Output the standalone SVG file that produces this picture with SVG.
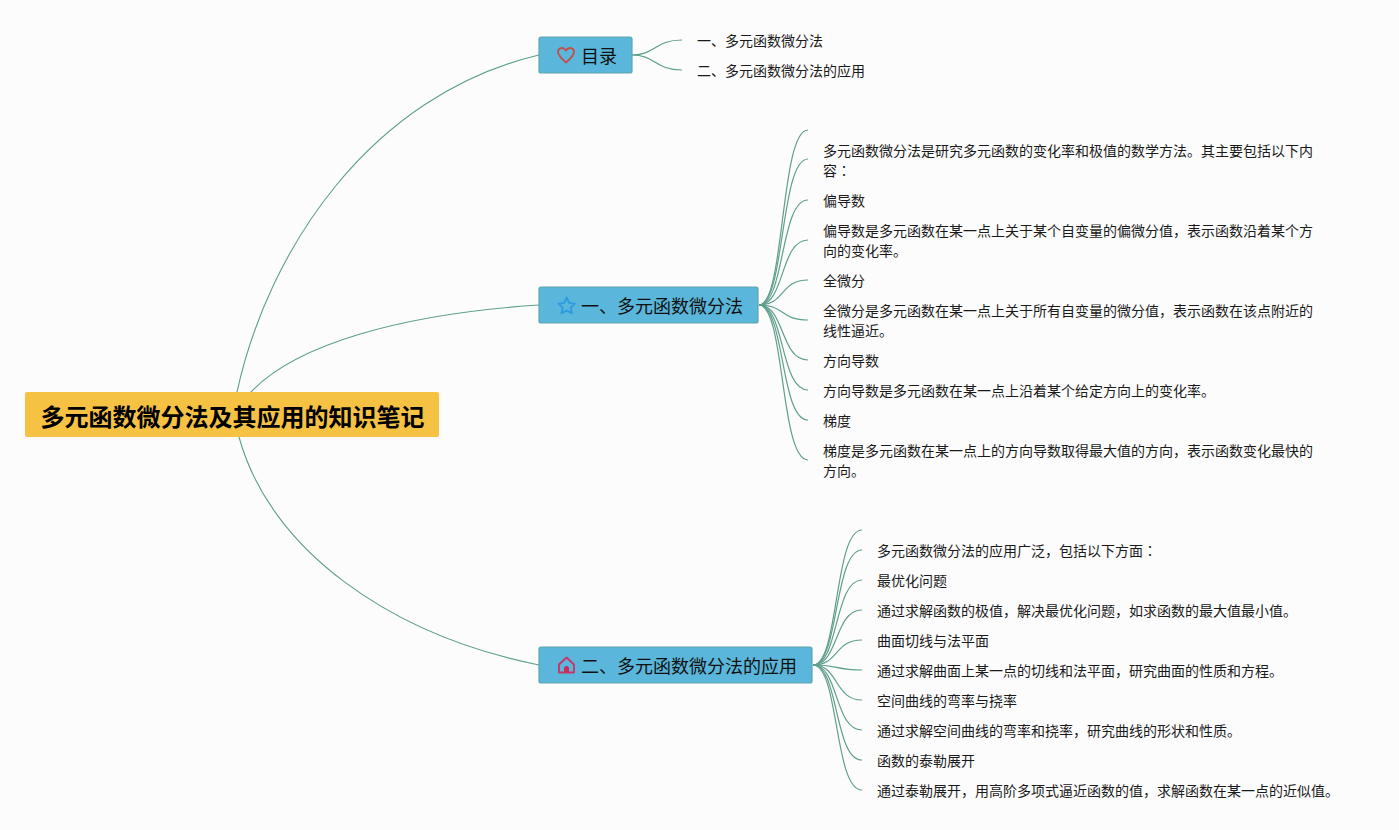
<svg xmlns="http://www.w3.org/2000/svg" width="1399" height="830" viewBox="0 0 1399 830">
<style>
text{font-family:"Noto Sans CJK SC","Noto Sans",sans-serif;fill:#1a1a1a}
.tc{font-family:"Noto Sans CJK TC","Noto Sans",sans-serif}
.c{fill:none;stroke:#5f9f8d;stroke-width:1.1}
.k{fill:none;stroke:#5f9f8d;stroke-width:1.2}
.topic rect{fill:#5ab6da;stroke:#5fa6ad;stroke-width:1.2}
.topic text{font-size:18px;fill:#111}
.leaf text{font-size:14px}
.icon{fill:none;stroke-width:1.9;stroke-linejoin:round;stroke-linecap:round}
</style>
<rect width="1399" height="830" fill="#fcfcfc"/>
<g id="connectors">
<path class="c" d="M237 392C268 250 370 95 539 55"/>
<path class="c" d="M251 392C295 345 400 314 539 305"/>
<path class="c" d="M239 437C270 550 390 635 539 665"/>
<g>
<path class="k" d="M632 55C655 55 655 40 682 40"/>
<path class="k" d="M632 55C655 55 655 70 682 70"/>
</g>
<g>
<path class="k" d="M759 305C785 305 780 130 808 130"/>
<path class="k" d="M759 305C785 305 780 159 808 159"/>
<path class="k" d="M759 305C785 305 780 200 808 200"/>
<path class="k" d="M759 305C785 305 780 240 808 240"/>
<path class="k" d="M759 305C785 305 780 280 808 280"/>
<path class="k" d="M759 305C785 305 780 320 808 320"/>
<path class="k" d="M759 305C785 305 780 360 808 360"/>
<path class="k" d="M759 305C785 305 780 390 808 390"/>
<path class="k" d="M759 305C785 305 780 420 808 420"/>
<path class="k" d="M759 305C785 305 780 460 808 460"/>
</g>
<g>
<path class="k" d="M813 665C839 665 834 530 862 530"/>
<path class="k" d="M813 665C839 665 834 550 862 550"/>
<path class="k" d="M813 665C839 665 834 580 862 580"/>
<path class="k" d="M813 665C839 665 834 610 862 610"/>
<path class="k" d="M813 665C839 665 834 640 862 640"/>
<path class="k" d="M813 665C839 665 834 670 862 670"/>
<path class="k" d="M813 665C839 665 834 700 862 700"/>
<path class="k" d="M813 665C839 665 834 730 862 730"/>
<path class="k" d="M813 665C839 665 834 760 862 760"/>
<path class="k" d="M813 665C839 665 834 790 862 790"/>
</g>
</g>
<g id="root">
<rect x="25" y="392" width="414" height="45" rx="2" fill="#f5c244"/>
<text x="40.500" y="426" font-size="24" font-weight="700" style="fill:#000">多元函数微分法及其应用的知识笔记</text>
</g>
<g id="topic-toc" class="topic">
<rect x="539" y="37" width="93" height="36" rx="2"/>
<path class="icon" d="M566 62.500C561.500 58.500 558 55.500 558 52C558 47.500 563.500 46.500 566 50.500C568.500 46.500 574 47.500 574 52C574 55.500 570.500 58.500 566 62.500Z" stroke="#c0504d"/>
<text x="581" y="63">目录</text>
</g>
<g id="topic-1" class="topic">
<rect x="539" y="287" width="219" height="36" rx="2"/>
<path class="icon" d="M566.700 297.500L569.200 302.900L575 303.600L570.700 307.600L571.900 313.300L566.700 310.500L561.500 313.300L562.700 307.600L558.400 303.600L564.200 302.900Z" stroke="#2e9be0"/>
<text x="581" y="313">一、多元函数微分法</text>
</g>
<g id="topic-2" class="topic">
<rect x="539" y="647" width="273" height="36" rx="2"/>
<path class="icon" d="M566.500 657.500L574 664.500V672.500H559V664.500Z" stroke="#c9376a"/>
<path d="M564 672.500V668.500A2.500 2.500 0 0 1 569 668.500V672.500Z" fill="#d02a5a"/>
<text x="581" y="673">二、多元函数微分法的应用</text>
</g>
<g id="toc-1" class="leaf"><text x="697" y="46">一、多元函数微分法</text></g>
<g id="toc-2" class="leaf"><text x="697" y="76">二、多元函数微分法的应用</text></g>
<g id="s1-1" class="leaf"><text x="823" y="156">多元函数微分法是研究多元函数的变化率和极值的数学方法。其主要包括以下内</text><text x="823" y="176">容<tspan class="tc">：</tspan></text></g>
<g id="s1-2" class="leaf"><text x="823" y="206">偏导数</text></g>
<g id="s1-3" class="leaf"><text x="823" y="236">偏导数是多元函数在某一点上关于某个自变量的偏微分值，表示函数沿着某个方</text><text x="823" y="256">向的变化率。</text></g>
<g id="s1-4" class="leaf"><text x="823" y="286">全微分</text></g>
<g id="s1-5" class="leaf"><text x="823" y="316">全微分是多元函数在某一点上关于所有自变量的微分值，表示函数在该点附近的</text><text x="823" y="336">线性逼近。</text></g>
<g id="s1-6" class="leaf"><text x="823" y="366">方向导数</text></g>
<g id="s1-7" class="leaf"><text x="823" y="396">方向导数是多元函数在某一点上沿着某个给定方向上的变化率。</text></g>
<g id="s1-8" class="leaf"><text x="823" y="426">梯度</text></g>
<g id="s1-9" class="leaf"><text x="823" y="456">梯度是多元函数在某一点上的方向导数取得最大值的方向，表示函数变化最快的</text><text x="823" y="476">方向。</text></g>
<g id="s2-1" class="leaf"><text x="877" y="556">多元函数微分法的应用广泛，包括以下方面<tspan class="tc">：</tspan></text></g>
<g id="s2-2" class="leaf"><text x="877" y="586">最优化问题</text></g>
<g id="s2-3" class="leaf"><text x="877" y="616">通过求解函数的极值，解决最优化问题，如求函数的最大值最小值。</text></g>
<g id="s2-4" class="leaf"><text x="877" y="646">曲面切线与法平面</text></g>
<g id="s2-5" class="leaf"><text x="877" y="676">通过求解曲面上某一点的切线和法平面，研究曲面的性质和方程。</text></g>
<g id="s2-6" class="leaf"><text x="877" y="706">空间曲线的弯率与挠率</text></g>
<g id="s2-7" class="leaf"><text x="877" y="736">通过求解空间曲线的弯率和挠率，研究曲线的形状和性质。</text></g>
<g id="s2-8" class="leaf"><text x="877" y="766">函数的泰勒展开</text></g>
<g id="s2-9" class="leaf"><text x="877" y="796">通过泰勒展开，用高阶多项式逼近函数的值，求解函数在某一点的近似值。</text></g>
</svg>
